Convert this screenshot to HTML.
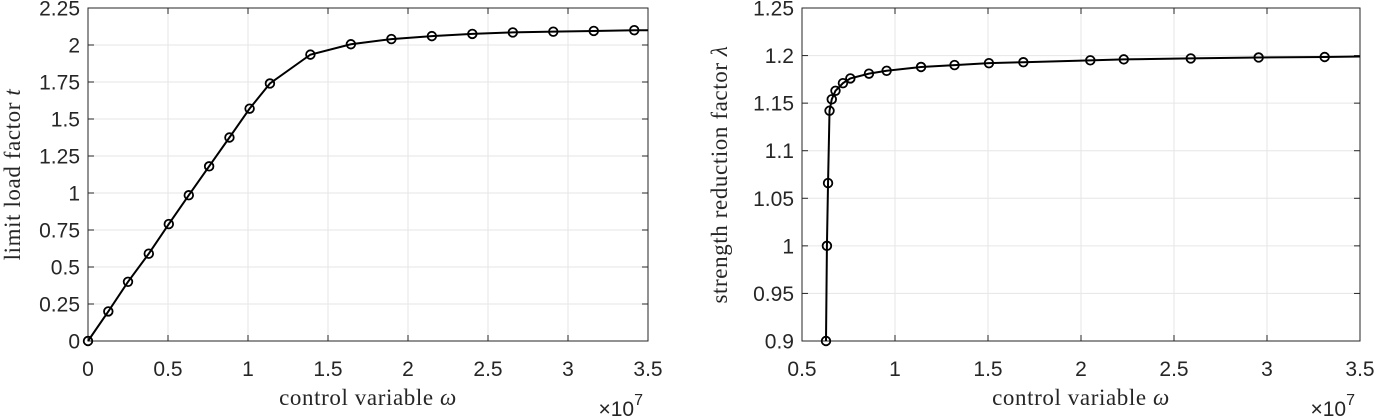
<!DOCTYPE html>
<html><head><meta charset="utf-8"><style>
body{margin:0;background:#fff;}
svg{display:block;}
.t{font-family:"Liberation Sans",sans-serif;font-size:21px;fill:#262626;}
.l{font-family:"Liberation Serif",serif;font-size:23px;letter-spacing:0.6px;fill:#262626;}
</style></head><body>
<svg id="s" width="1377" height="420" xmlns="http://www.w3.org/2000/svg"></svg>
<script>
const s=document.getElementById('s');let h='';
function plot(L,R,T,B,x0,x1,y0,y1,xt,yt,ytl,data,ylab,ylabx){
 const X=v=>L+(v-x0)/(x1-x0)*(R-L), Y=v=>B-(v-y0)/(y1-y0)*(B-T);
 for(const v of xt){const x=X(v);h+=`<line x1="${x}" y1="${T}" x2="${x}" y2="${B}" stroke="#e6e6e6"/>`;}
 yt.forEach(v=>{const y=Y(v);h+=`<line x1="${L}" y1="${y}" x2="${R}" y2="${y}" stroke="#e6e6e6"/>`;});
 h+=`<rect x="${L}" y="${T}" width="${R-L}" height="${B-T}" fill="none" stroke="#262626" stroke-width="1"/>`;
 for(const v of xt){const x=X(v);h+=`<line x1="${x}" y1="${B}" x2="${x}" y2="${B-6}" stroke="#262626"/><line x1="${x}" y1="${T}" x2="${x}" y2="${T+6}" stroke="#262626"/><text class="t" x="${x}" y="${B+35}" text-anchor="middle">${v}</text>`;}
 yt.forEach((v,i)=>{const y=Y(v);h+=`<line x1="${L}" y1="${y}" x2="${L+6}" y2="${y}" stroke="#262626"/><line x1="${R}" y1="${y}" x2="${R-6}" y2="${y}" stroke="#262626"/><text class="t" x="${L-8}" y="${y+7.5}" text-anchor="end">${ytl[i]}</text>`;});
 h+=`<polyline fill="none" stroke="#000" stroke-width="2" points="${data.map(d=>X(d[0])+','+Y(d[1])).join(' ')}"/>`;
 data.forEach((d,i)=>{if(i<data.length-1)h+=`<circle cx="${X(d[0])}" cy="${Y(d[1])}" r="4.3" fill="none" stroke="#000" stroke-width="1.8"/>`;});
 h+=`<text class="l" x="${(L+R)/2}" y="405" text-anchor="middle">control variable <tspan font-style="italic">ω</tspan></text>`;
 h+=`<text class="l" transform="translate(${ylabx},${(T+B)/2}) rotate(-90)" text-anchor="middle">${ylab}</text>`;
 h+=`<text class="t" x="${R-5}" y="416" text-anchor="end">×10<tspan dy="-11" font-size="16">7</tspan></text>`;
}
plot(88,648,8,341,0,3.5,0,2.25,[0,0.5,1,1.5,2,2.5,3,3.5],[0,0.25,0.5,0.75,1,1.25,1.5,1.75,2,2.25],
 ['0','0.25','0.5','0.75','1','1.25','1.5','1.75','2','2.25'],
 [[0,0],[0.127,0.2],[0.25,0.4],[0.38,0.59],[0.505,0.79],[0.63,0.985],[0.757,1.18],[0.884,1.375],[1.01,1.57],[1.137,1.74],[1.39,1.935],[1.643,2.005],[1.896,2.04],[2.149,2.06],[2.402,2.075],[2.655,2.085],[2.908,2.09],[3.161,2.095],[3.414,2.1],[3.5,2.1]],
 'limit load factor <tspan font-style="italic">t</tspan>',20);
plot(802,1360,8,341,0.5,3.5,0.9,1.25,[0.5,1,1.5,2,2.5,3,3.5],[0.9,0.95,1,1.05,1.1,1.15,1.2,1.25],
 ['0.9','0.95','1','1.05','1.1','1.15','1.2','1.25'],
 [[0.629,0.9],[0.634,1.0],[0.64,1.066],[0.648,1.142],[0.66,1.154],[0.68,1.163],[0.72,1.171],[0.76,1.176],[0.86,1.181],[0.955,1.184],[1.14,1.188],[1.32,1.190],[1.505,1.192],[1.69,1.193],[2.05,1.195],[2.23,1.196],[2.59,1.197],[2.955,1.198],[3.31,1.1985],[3.5,1.199]],
 'strength reduction factor <tspan font-style="italic">λ</tspan>',727);
s.innerHTML=h;
</script>
</body></html>
